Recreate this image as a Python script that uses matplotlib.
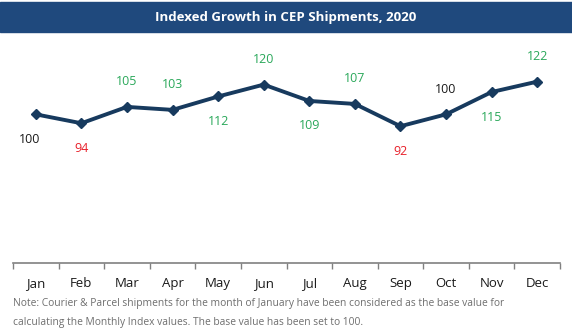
import matplotlib.pyplot as plt
import numpy as np
from matplotlib.patches import Rectangle

plt.rcParams['font.family'] = ['Open Sans', 'DejaVu Sans']

months = ['Jan', 'Feb', 'Mar', 'Apr', 'May', 'Jun',
          'Jul', 'Aug', 'Sep', 'Oct', 'Nov', 'Dec']
index_values = [100, 94, 105, 103, 112, 120, 109, 107, 92, 100, 115, 122]
# label above (1) or below (-1) the point
label_side = [-1, -1, 1, 1, -1, 1, -1, 1, -1, 1, -1, 1]

title = 'Indexed Growth in CEP Shipments, 2020'
note = ('Note: Courier & Parcel shipments for the month of January have been considered as the base value for\n'
        'calculating the Monthly Index values. The base value has been set to 100.')

fig = plt.figure(figsize=(5.72, 3.34), dpi=100)

# title band
fig.patches.append(Rectangle((0, 302 / 334), 1, 30 / 334, transform=fig.transFigure,
                             color='#1f497d', zorder=0))
fig.text(0.5, 317 / 334, title, color='white', fontsize=9.5, fontweight='bold',
         ha='center', va='center')

ax = fig.add_axes([13 / 572, 71 / 334, 547 / 572, 223 / 334])
x = np.arange(len(months))
ax.plot(x, index_values, color='#173a5e', lw=2.8, marker='D', ms=5.5, zorder=3)

for i, v in enumerate(index_values):
    if v > 100:
        c = '#2aa85a'
    elif v < 100:
        c = '#e8202a'
    else:
        c = '#1a1a1a'
    dy = 25 * label_side[i]
    dx = -6 if i == 0 else 0
    ax.annotate(str(v), (i, v), xytext=(dx, dy), textcoords='offset pixels',
                ha='center', va='center', color=c, fontsize=9)

ax.set_xlim(-0.5, len(months) - 0.5)
ax.set_ylim(0, 150)
ax.set_xticks(x)
ax.set_xticklabels(months, fontsize=9.5, color='#1a1a1a')
ax.set_xticks(np.arange(-0.5, len(months)), minor=True)
ax.tick_params(axis='x', which='major', length=0, pad=10)
ax.tick_params(axis='x', which='minor', length=4, color='#808080', width=1)
ax.set_yticks([])
for s in ['top', 'left', 'right']:
    ax.spines[s].set_visible(False)
ax.spines['bottom'].set_color('#808080')
ax.spines['bottom'].set_linewidth(1.2)

fig.text(13 / 572, 21 / 334, note, color='#6e6e6e', fontsize=7.4,
         ha='left', va='center', linespacing=1.9)

fig.savefig('out.png', dpi=100)
